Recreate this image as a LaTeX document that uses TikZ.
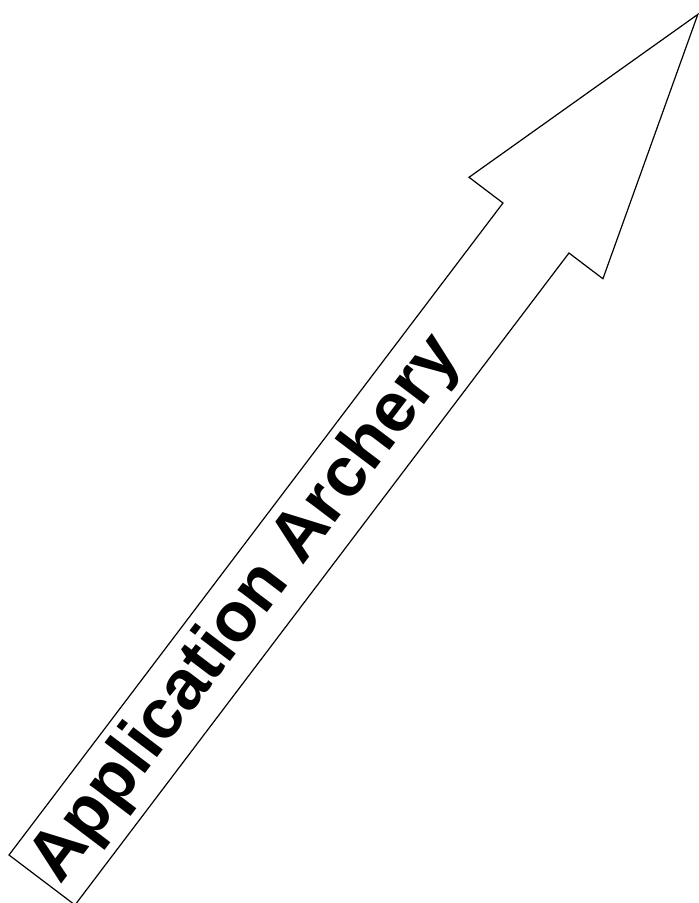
\documentclass[tikz,border=0pt]{standalone}
\usepackage{fontspec}
\setmainfont{Liberation Sans}
\usetikzlibrary{calc}

\begin{document}
\begin{tikzpicture}[x=1pt,y=1pt,
    outline/.style={draw=black,line width=1.2pt,line join=miter},
    banner/.style={font=\fontsize{70}{80}\selectfont\bfseries,inner sep=0pt,transform shape}
]
\useasboundingbox (0,0) rectangle (699,903);
% arrow laid out along its own axis, then turned
\begin{scope}[shift={(42,23)},rotate=52.85]
\draw[outline] (0,-41.4) -- (818,-41.4) -- (818,-84) -- (1086,0) -- (818,84) -- (818,41.4) -- (0,41.4) -- cycle;
\node[banner] (label) at (339,0) {Application Archery};
\end{scope}
\end{tikzpicture}
\end{document}
